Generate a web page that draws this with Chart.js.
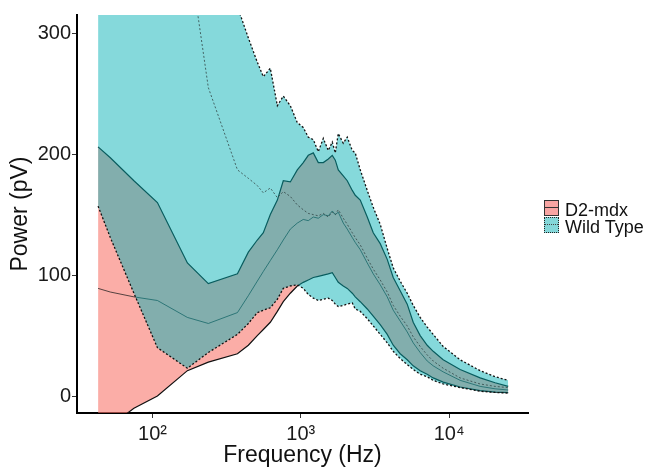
<!DOCTYPE html>
<html>
<head>
<meta charset="utf-8">
<script src="https://cdn.jsdelivr.net/npm/chart.js@4.4.1/dist/chart.umd.min.js"></script>
<style>
  html, body { margin: 0; padding: 0; background: #fff; }
  #wrap { position: relative; width: 649px; height: 469px; }
  .key { position: absolute; width: 13px; height: 14px; }
  .key .mid { position: absolute; left: 0; right: 0; top: 6px; height: 0; }
  .lbl { position: absolute; font-family: "Liberation Sans", Arial, sans-serif; font-size: 18px; line-height: 18px; color: #111; white-space: nowrap; }
</style>
</head>
<body>
<div id="wrap">
  <canvas id="chart" width="649" height="469"></canvas>
  <div class="key" style="left:544px; top:200px; background:rgba(248,160,158,0.95); border:1px solid #333;"><div class="mid" style="border-top:1px solid #333;"></div></div>
  <div class="lbl" style="left:565px; top:201px;">D2-mdx</div>
  <div class="key" style="left:544px; top:217px; background:#84d7d9; border:1px dotted #222;"><div class="mid" style="border-top:1px dotted #444;"></div></div>
  <div class="lbl" style="left:565px; top:218px;">Wild Type</div>
</div>
<script>
// frequency grid (Hz)
const freq = [43, 52, 75, 108, 172, 238, 374, 443, 509, 559, 623, 695, 762, 850, 947,
  1039, 1123, 1214, 1312, 1418, 1532, 1630, 1708, 1789, 1933, 2056, 2223, 2328, 2516,
  2805, 3078, 3430, 3824, 4197, 4677, 5215, 5723, 6378, 7111, 7805, 9112, 11860,
  16180, 20400, 25000];

// D2-mdx ribbon and mean (pV)
const d2Lower = [-32, -25, -10, 0, 21, 28, 35, 42, 50, 55, 61, 70, 78, 85, 91,
  94, 96, 98, 99, 100, 101, 102, 98, 94, 91, 89, 85, 82, 78,
  72, 66, 59, 51, 42, 35, 30, 25, 21, 18, 15, 11.5, 7.5,
  4.5, 3.3, 2.8];
const d2Upper = [206, 197, 178, 160, 110, 93, 101, 119, 129, 135, 150, 162, 178, 177, 187,
  193, 199, 201, 193, 193, 196, 199, 195, 187, 182, 178, 170, 166, 162,
  148, 135, 126, 113, 98, 87, 76, 61, 50, 42, 37, 30, 22,
  15, 11, 8];
const d2Mean = [89, 86, 82, 79, 65, 60, 69, 83, 95, 103, 112, 121, 129, 138, 143,
  146, 145, 148, 147, 150, 149, 153, 150, 152, 143, 138, 131, 127, 121,
  110, 101, 92, 82, 71, 62, 53, 44, 36, 29, 25, 20, 13,
  8, 6, 5];

// Wild Type ribbon and mean (pV)
const wtLower = [157, 131, 85, 40, 23, 36, 51, 60, 69, 71, 73, 80, 89, 91, 92,
  89, 84, 81, 79, 80, 81, 79, 76, 74, 75, 76, 77, 72, 70,
  64, 58, 51, 44, 37, 31, 26, 22, 18, 16, 13, 10, 7,
  4, 3, 2.5];
const wtUpper = [600, 580, 540, 500, 440, 390, 322, 296, 276, 264, 271, 240, 248, 240, 226,
  222, 214, 212, 202, 213, 203, 210, 201, 217, 209, 214, 203, 201, 187,
  170, 156, 142, 122, 106, 95, 85, 75, 65, 57, 51, 41, 30,
  21, 16, 13];
const wtMean = [900, 820, 680, 540, 375, 255, 187, 180, 174, 168, 172, 164, 169, 165, 158,
  154, 151, 150, 149, 151, 148, 152, 150, 154, 147, 142, 135, 131, 125,
  114, 105, 96, 86, 75, 66, 58, 49, 41, 34, 29, 23, 15,
  10, 8, 7];

const xTicks = [100, 1000, 10000];
const xTickLabels = ['10\u00b2', '10\u00b3', '10\u2074'];
const yTicks = [0, 100, 200, 300];

const pts = vals => freq.map((f, i) => ({ x: f, y: vals[i] }));
const FONT = '"Liberation Sans", Arial, sans-serif';

const line = (vals, color, width, dash, order, extra) => Object.assign({
  data: pts(vals),
  borderColor: color,
  borderWidth: width,
  borderDash: dash,
  pointRadius: 0,
  tension: 0,
  fill: false,
  clip: 0,
  order: order
}, extra || {});

new Chart(document.getElementById('chart'), {
  type: 'line',
  data: {
    datasets: [
      line(d2Lower, '#111', 1.2, [], 5),
      line(d2Upper, '#111', 1.2, [], 5, { fill: '-1', backgroundColor: 'rgba(248,118,109,0.6)' }),
      line(d2Mean, 'rgba(30,30,30,0.75)', 1, [], 4),
      line(wtLower, '#111', 1.3, [2, 2], 3),
      line(wtUpper, '#111', 1.3, [2, 2], 3, { fill: '-1', backgroundColor: 'rgba(0,176,179,0.48)' }),
      line(wtMean, 'rgba(50,70,70,0.8)', 1, [2, 2], 2)
    ]
  },
  options: {
    responsive: false,
    animation: false,
    layout: { padding: { top: 15, right: 121, bottom: 0, left: 0 } },
    plugins: { legend: { display: false }, tooltip: { enabled: false } },
    scales: {
      x: {
        type: 'logarithmic',
        min: 31,
        max: 34000,
        afterBuildTicks: s => { s.ticks = xTicks.map(v => ({ value: v })); },
        afterFit: s => { s.height = 56; },
        ticks: {
          autoSkip: false,
          maxRotation: 0,
          padding: 4,
          color: '#1a1a1a',
          font: { family: FONT, size: 20 },
          callback: v => xTickLabels[xTicks.indexOf(v)]
        },
        grid: { drawOnChartArea: false, drawTicks: true, tickLength: 5, color: '#333', lineWidth: 1 },
        border: { display: true, color: '#000', width: 2 },
        title: {
          display: true,
          text: 'Frequency (Hz)',
          color: '#111',
          font: { family: FONT, size: 23, lineHeight: 1 },
          padding: { top: 0, bottom: 2 }
        }
      },
      y: {
        min: -14,
        max: 315,
        afterBuildTicks: s => { s.ticks = yTicks.map(v => ({ value: v })); },
        afterFit: s => { s.width = 77; },
        ticks: {
          padding: 1,
          color: '#1a1a1a',
          font: { family: FONT, size: 20 }
        },
        grid: { drawOnChartArea: false, drawTicks: true, tickLength: 5, color: '#333', lineWidth: 1 },
        border: { display: true, color: '#000', width: 2 },
        title: {
          display: true,
          text: 'Power (pV)',
          color: '#111',
          font: { family: FONT, size: 23, lineHeight: 1 },
          padding: { top: 9, bottom: 0 }
        }
      }
    }
  }
});
</script>
</body>
</html>
